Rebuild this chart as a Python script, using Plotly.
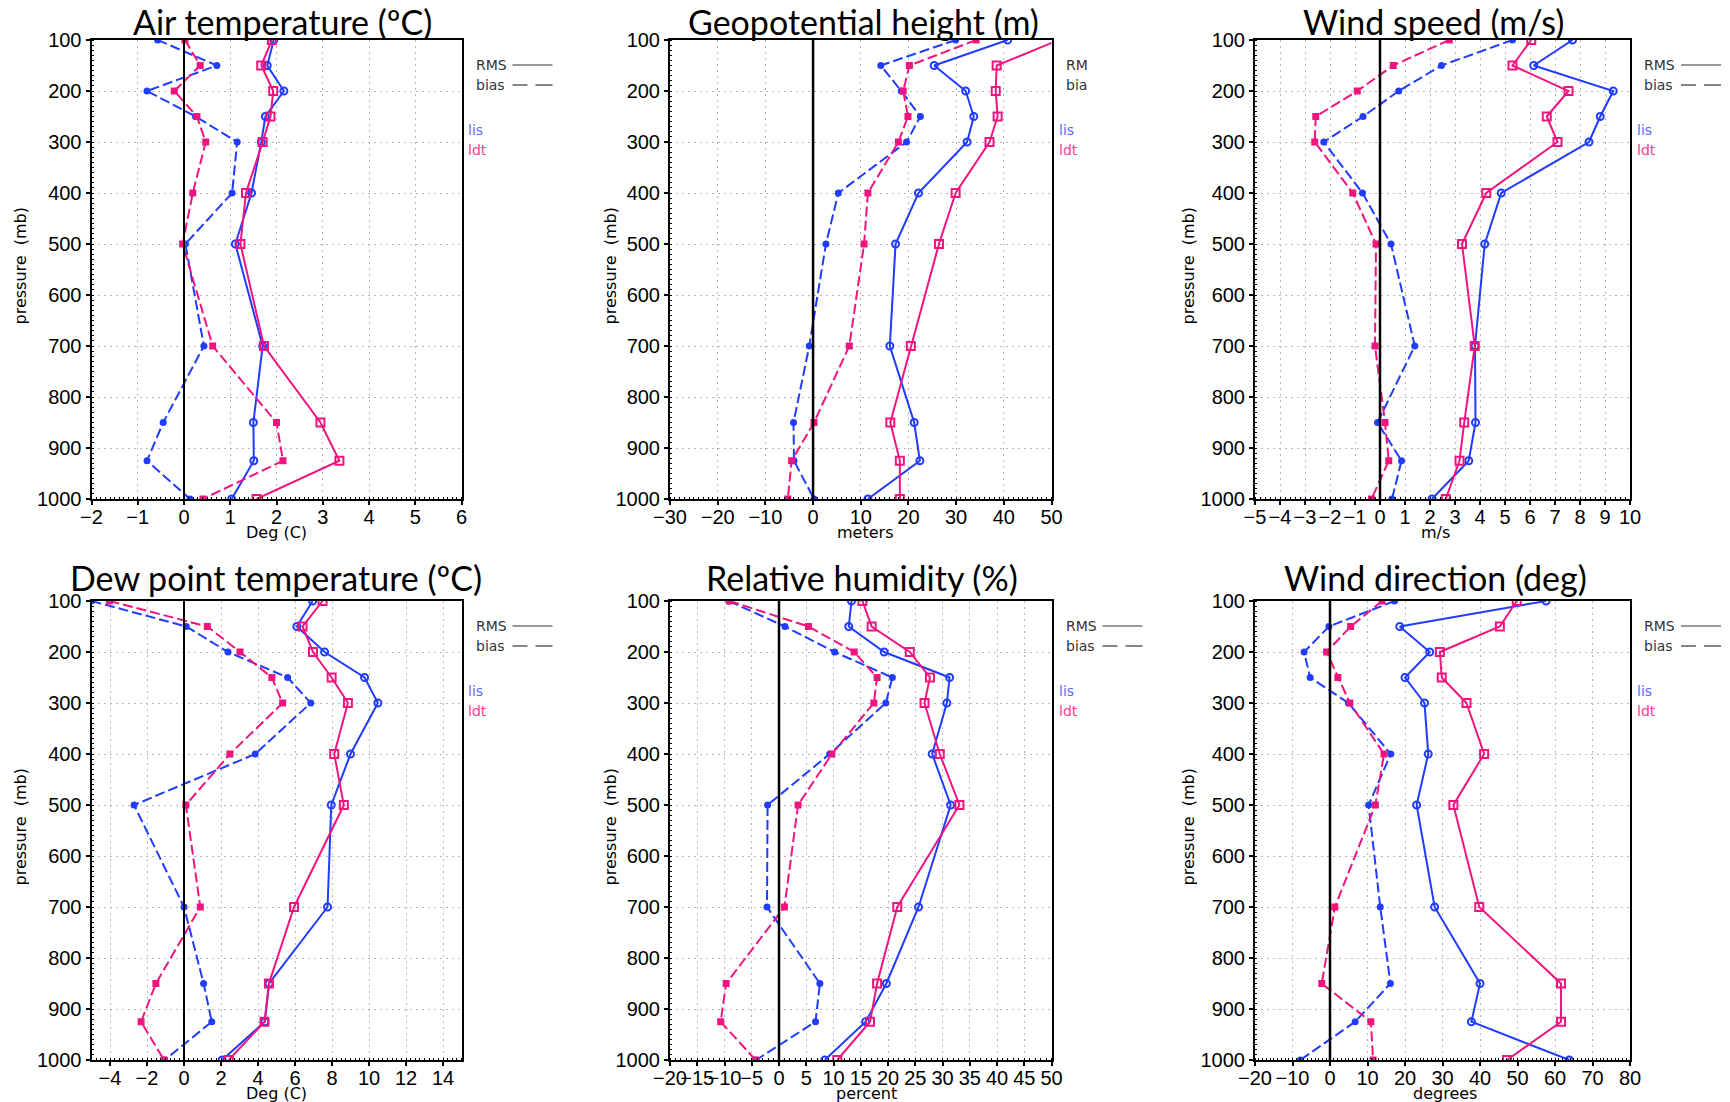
import plotly.graph_objects as go
from plotly.subplots import make_subplots

levels = [100, 150, 200, 250, 300, 400, 500, 700, 850, 925, 1000]

# Air temperature (deg C)
airt_lis_rms = [1.94, 1.80, 2.16, 1.76, 1.67, 1.46, 1.11, 1.70, 1.50, 1.51, 1.03]
airt_ldt_rms = [1.90, 1.67, 1.93, 1.87, 1.70, 1.34, 1.22, 1.73, 2.95, 3.36, 1.57]
airt_lis_bias = [-0.57, 0.71, -0.80, 0.25, 1.15, 1.04, 0.03, 0.43, -0.45, -0.80, 0.13]
airt_ldt_bias = [0.02, 0.35, -0.21, 0.28, 0.47, 0.19, -0.03, 0.62, 2.00, 2.14, 0.41]

# Geopotential height (m)
hgt_lis_rms = [40.8, 25.4, 32.0, 33.7, 32.3, 22.1, 17.3, 16.1, 21.2, 22.4, 11.5]
hgt_ldt_rms = [51.5, 38.5, 38.3, 38.7, 37.0, 29.9, 26.4, 20.5, 16.2, 18.2, 18.2]
hgt_lis_bias = [29.9, 14.2, 18.5, 22.5, 19.6, 5.3, 2.7, -0.8, -4.1, -4.0, 0.2]
hgt_ldt_bias = [34.2, 20.2, 18.9, 19.9, 17.9, 11.5, 10.7, 7.6, 0.2, -4.5, -5.3]

# Wind speed (m/s)
wspd_lis_rms = [7.70, 6.15, 9.33, 8.81, 8.36, 4.85, 4.19, 3.80, 3.82, 3.55, 2.08]
wspd_ldt_rms = [6.05, 5.30, 7.54, 6.67, 7.10, 4.25, 3.28, 3.79, 3.37, 3.18, 2.63]
wspd_lis_bias = [5.30, 2.46, 0.75, -0.68, -2.25, -0.70, 0.44, 1.39, -0.10, 0.86, 0.48]
wspd_ldt_bias = [2.77, 0.53, -0.91, -2.57, -2.61, -1.09, -0.16, -0.20, 0.20, 0.35, -0.34]

# Dew point temperature (deg C)
dewp_lis_rms = [6.95, 6.10, 7.60, 9.76, 10.48, 9.00, 7.96, 7.76, 4.60, 4.37, 2.06]
dewp_ldt_rms = [7.49, 6.41, 6.97, 7.98, 8.86, 8.12, 8.64, 5.95, 4.59, 4.35, 2.42]
dewp_lis_bias = [-5.00, 0.12, 2.38, 5.60, 6.85, 3.85, -2.70, 0.00, 1.06, 1.50, -1.04]
dewp_ldt_bias = [-4.03, 1.26, 3.03, 4.75, 5.33, 2.48, 0.10, 0.88, -1.52, -2.32, -1.08]

# Relative humidity (%)
rh_lis_rms = [13.3, 12.8, 19.3, 31.3, 30.8, 28.1, 31.5, 25.6, 19.7, 15.9, 8.4]
rh_ldt_rms = [15.3, 17.0, 24.0, 27.7, 26.7, 29.5, 33.1, 21.7, 18.0, 16.7, 10.7]
rh_lis_bias = [-9.2, 1.1, 10.2, 20.8, 19.6, 9.3, -2.1, -2.2, 7.5, 6.7, -4.2]
rh_ldt_bias = [-9.1, 5.4, 13.8, 18.0, 17.4, 9.7, 3.5, 1.0, -9.7, -10.7, -4.3]

# Wind direction (deg)
wdir_lis_rms = [57.6, 18.6, 26.6, 20.0, 25.2, 26.2, 23.1, 27.9, 40.0, 37.7, 63.8]
wdir_ldt_rms = [49.8, 45.3, 29.3, 29.8, 36.4, 41.1, 32.9, 39.8, 61.6, 61.6, 47.2]
wdir_lis_bias = [17.2, -0.3, -6.9, -5.3, 4.9, 16.2, 10.3, 13.4, 16.1, 6.7, -7.9]
wdir_ldt_bias = [13.9, 5.5, -0.9, 2.1, 5.3, 14.4, 12.1, 1.3, -2.2, 10.9, 11.5]

titles = ["Air temperature (ºC)", "Geopotential height (m)", "Wind speed (m/s)",
          "Dew point temperature (ºC)", "Relative humidity (%)", "Wind direction (deg)"]
xtitles = ["Deg (C)", "meters", "m/s", "Deg (C)", "percent", "degrees"]
xranges = [[-2, 6], [-30, 50], [-5, 10], [-5, 15], [-20, 50], [-20, 80]]
xticks = [list(range(-2, 7, 1)), list(range(-30, 51, 10)), list(range(-5, 11, 1)),
          list(range(-4, 15, 2)), list(range(-20, 51, 5)), list(range(-20, 81, 10))]
xminor = [0.1, 1, 0.2, 0.25, 1, 1]
series = [
    (airt_lis_rms, airt_ldt_rms, airt_lis_bias, airt_ldt_bias),
    (hgt_lis_rms, hgt_ldt_rms, hgt_lis_bias, hgt_ldt_bias),
    (wspd_lis_rms, wspd_ldt_rms, wspd_lis_bias, wspd_ldt_bias),
    (dewp_lis_rms, dewp_ldt_rms, dewp_lis_bias, dewp_ldt_bias),
    (rh_lis_rms, rh_ldt_rms, rh_lis_bias, rh_ldt_bias),
    (wdir_lis_rms, wdir_ldt_rms, wdir_lis_bias, wdir_ldt_bias),
]

# page has an 8px body margin, so the figure is drawn 8px smaller and offset
OFF = 8
W, H = 1730 - OFF, 1102 - OFF
BLUE = '#1f3cff'
PINK = '#f2147e'
cols_px = [(91.5, 461.5), (670, 1051.5), (1255, 1630)]
rows_px = [(40, 499), (601, 1060)]
title_dy = [19, 24]
title_x = [282, 863, 1433, 276, 862, 1435]
xtitle_x = [276, 865, 1435, 276, 866, 1445]
ylab_x = [20, 610, 1188]

fig = make_subplots(rows=2, cols=3)


def px(x):
    return (x - OFF) / W


def py(y):
    return 1 - (y - OFF) / H


for i in range(6):
    r, c = i // 3, i % 3
    L, R = cols_px[c]
    T, B = rows_px[r]
    lis_rms, ldt_rms, lis_bias, ldt_bias = series[i]

    fig.add_trace(go.Scatter(x=lis_rms, y=levels, mode='lines+markers',
                             line=dict(color=BLUE, width=2),
                             marker=dict(symbol='circle-open', size=7, color=BLUE, line=dict(width=2, color=BLUE))),
                  row=r + 1, col=c + 1)
    fig.add_trace(go.Scatter(x=ldt_rms, y=levels, mode='lines+markers',
                             line=dict(color=PINK, width=2),
                             marker=dict(symbol='square-open', size=8, color=PINK, line=dict(width=2, color=PINK))),
                  row=r + 1, col=c + 1)
    fig.add_trace(go.Scatter(x=lis_bias, y=levels, mode='lines+markers',
                             line=dict(color=BLUE, width=2, dash='10px,4px'),
                             marker=dict(symbol='circle', size=7, color=BLUE)),
                  row=r + 1, col=c + 1)
    fig.add_trace(go.Scatter(x=ldt_bias, y=levels, mode='lines+markers',
                             line=dict(color=PINK, width=2, dash='10px,4px'),
                             marker=dict(symbol='square', size=7, color=PINK)),
                  row=r + 1, col=c + 1)

    fig.update_xaxes(domain=[px(L), px(R)], range=xranges[i], tickvals=xticks[i],
                     minor=dict(dtick=xminor[i], ticks='inside', ticklen=2, tickwidth=1,
                                tickcolor='black', showgrid=False),
                     row=r + 1, col=c + 1)
    fig.update_yaxes(domain=[py(B), py(T)], row=r + 1, col=c + 1)

    suffix = '' if i == 0 else str(i + 1)
    fig.add_shape(type='line', xref='x' + suffix, yref='y' + suffix + ' domain',
                  x0=0, x1=0, y0=0, y1=1, line=dict(color='black', width=2.5 if c > 0 else 2))

    # titles
    fig.add_annotation(text=titles[i], x=px(title_x[i]), y=py(T - title_dy[r]), xref='paper', yref='paper',
                       showarrow=False, font=dict(family='Lato', size=34, color='black'),
                       xanchor='center', yanchor='middle')
    fig.add_annotation(text=xtitles[i], x=px(xtitle_x[i]), y=py(B + 33), xref='paper', yref='paper',
                       showarrow=False, font=dict(family='DejaVu Sans', size=16, color='black'),
                       xanchor='center', yanchor='middle')
    fig.add_annotation(text='pressure  (mb)', x=px(ylab_x[c]), y=py((T + B) / 2 - 4), xref='paper', yref='paper',
                       showarrow=False, textangle=-90, font=dict(family='DejaVu Sans', size=16, color='black'),
                       xanchor='center', yanchor='middle')

    # key
    lab_rms, lab_bias = ('RM', 'bia') if i == 1 else ('RMS', 'bias')
    fig.add_annotation(text=lab_rms, x=px(R + 12), y=py(T + 25), xref='paper', yref='paper',
                       showarrow=False, font=dict(family='DejaVu Sans', size=14, color='#333333'),
                       xanchor='left', yanchor='middle')
    fig.add_annotation(text=lab_bias, x=px(R + 12), y=py(T + 45), xref='paper', yref='paper',
                       showarrow=False, font=dict(family='DejaVu Sans', size=14, color='#333333'),
                       xanchor='left', yanchor='middle')
    if i != 1:
        fig.add_shape(type='line', xref='paper', yref='paper', x0=px(R + 51), x1=px(R + 91),
                      y0=py(T + 25), y1=py(T + 25), line=dict(color='#333333', width=1.2))
        fig.add_shape(type='line', xref='paper', yref='paper', x0=px(R + 51), x1=px(R + 66),
                      y0=py(T + 45), y1=py(T + 45), line=dict(color='#333333', width=1.2))
        fig.add_shape(type='line', xref='paper', yref='paper', x0=px(R + 74), x1=px(R + 91),
                      y0=py(T + 45), y1=py(T + 45), line=dict(color='#333333', width=1.2))
    fig.add_annotation(text='lis', x=px(R + 5), y=py(T + 90), xref='paper', yref='paper',
                       showarrow=False, font=dict(family='DejaVu Sans', size=14, color='#5a6cff'),
                       xanchor='left', yanchor='middle')
    fig.add_annotation(text='ldt', x=px(R + 5), y=py(T + 110), xref='paper', yref='paper',
                       showarrow=False, font=dict(family='DejaVu Sans', size=14, color='#ff3a95'),
                       xanchor='left', yanchor='middle')

fig.update_xaxes(showline=True, linecolor='black', linewidth=2, mirror=True, automargin=False,
                 ticks='outside', ticklen=4, tickwidth=1.5, tickcolor='black', tickangle=0,
                 ticklabelstandoff=-5,
                 showgrid=True, gridcolor='#b8b8b8', griddash='2px,4px', gridwidth=1,
                 zeroline=False, tickfont=dict(family='Liberation Sans', size=20, color='black'))
fig.update_yaxes(range=[1000, 100], tickvals=list(range(100, 1001, 100)), automargin=False,
                 showline=True, linecolor='black', linewidth=2, mirror=True,
                 ticks='outside', ticklen=4, tickwidth=1.5, tickcolor='black',
                 minor=dict(dtick=10, ticks='inside', ticklen=2, tickwidth=1,
                            tickcolor='black', showgrid=False),
                 showgrid=True, gridcolor='#b8b8b8', griddash='2px,4px', gridwidth=1,
                 zeroline=False, tickfont=dict(family='Liberation Sans', size=20, color='black'))

fig.update_layout(width=W, height=H, margin=dict(l=0, r=0, t=0, b=0),
                  paper_bgcolor='white', plot_bgcolor='white', showlegend=False)

fig.write_html("out.html")
